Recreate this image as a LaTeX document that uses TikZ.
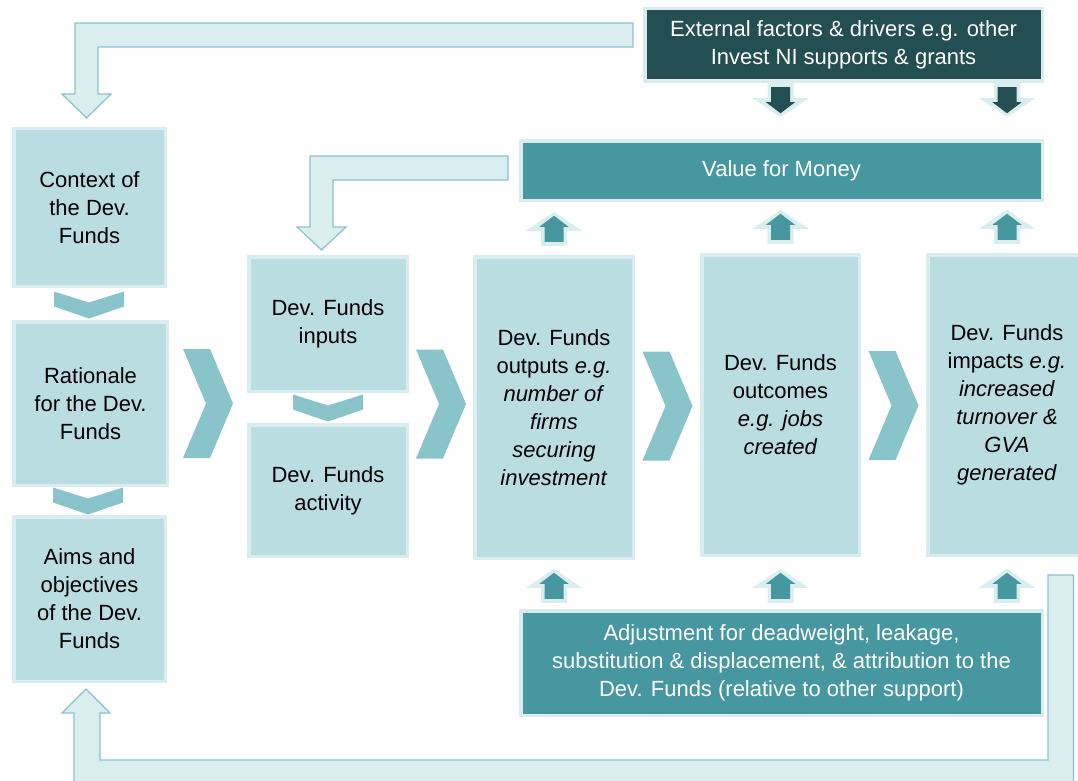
\documentclass[tikz,border=0pt]{standalone}
\usepackage{fontspec}
\setmainfont{Liberation Sans}
\usetikzlibrary{calc}
\definecolor{boxfill}{HTML}{BADDE1}
\definecolor{boxedge}{HTML}{D9EDEF}
\definecolor{chevcol}{HTML}{8AC4CB}
\definecolor{fbfill}{HTML}{DAEDEF}
\definecolor{fbedge}{HTML}{8AC4CB}
\definecolor{vfmteal}{HTML}{4797A0}
\definecolor{darkteal}{HTML}{234E52}
\begin{document}
\begin{tikzpicture}[x=1pt,y=-1pt,
  txt/.style={font=\fontsize{22}{28}\selectfont, align=center, inner sep=0pt, outer sep=0pt},
  lbox/.style={txt, draw=boxedge, line width=3.5pt, fill=boxfill, text=black},
  tbox/.style={txt, draw=boxedge, line width=3.5pt, fill=vfmteal, text=white},
  dbox/.style={txt, draw=boxedge, line width=3.5pt, fill=darkteal, text=white},
  fbarrow/.style={fill=fbfill, draw=fbedge, line width=1.2pt, line join=miter},
  downchev/.pic={\fill[chevcol] (-35,-13.5) -- (0,-2.5) -- (35,-13.5) -- (35,1.5) -- (0,13.5) -- (-35,1.5) -- cycle;},
  rightchev/.pic={\fill[chevcol] (-25,-54.5) -- (2,-54.5) -- (25,0) -- (2,54.5) -- (-25,54.5) -- (-2,0) -- cycle;},
  uparrow/.pic={
    \fill[fbfill] (0,-17) -- (28,2) -- (13,2) -- (13,17) -- (-13,17) -- (-13,2) -- (-28,2) -- cycle;
    \fill[vfmteal] (0,-13) -- (14.5,-2) -- (9.5,-2) -- (9.5,13) -- (-9.5,13) -- (-9.5,-2) -- (-14.5,-2) -- cycle;},
  downarrow/.pic={
    \fill[fbfill] (0,17) -- (28,-2) -- (13,-2) -- (13,-17) -- (-13,-17) -- (-13,-2) -- (-28,-2) -- cycle;
    \fill[darkteal] (0,13) -- (14.5,2) -- (9.5,2) -- (9.5,-13) -- (-9.5,-13) -- (-9.5,2) -- (-14.5,2) -- cycle;}
]
\fill[white] (0,0) rectangle (1078,781);
\useasboundingbox (0,0) rectangle (1078,781);

% feedback block arrows
\draw[fbarrow] (633,23) -- (75,23) -- (75,94) -- (62,94) -- (86.5,118) -- (111,94) -- (98,94) -- (98,47) -- (633,47) -- cycle;
\draw[fbarrow] (508,156) -- (310,156) -- (310,227) -- (297,227) -- (321.5,250) -- (346,227) -- (333,227) -- (333,180) -- (508,180) -- cycle;
\draw[fbarrow] (1073.5,575) -- (1073.5,790) -- (74,790) -- (74,713) -- (62,713) -- (86,689) -- (110,713) -- (100,713) -- (100,760) -- (1048,760) -- (1048,575) -- cycle;

% boxes
\node[lbox, minimum width=151.5pt, minimum height=157.5pt] (context) at (89.5,207.5) {Context of\\the Dev.\\Funds};
\node[lbox, minimum width=153.5pt, minimum height=163.5pt] (rationale) at (90.5,403.5) {Rationale\\for the Dev.\\Funds};
\node[lbox, minimum width=151.5pt, minimum height=164.5pt] (aims) at (89.5,599) {Aims and\\objectives\\of the Dev.\\Funds};
\node[lbox, minimum width=158.5pt, minimum height=134.5pt] (inputs) at (328,324) {Dev. Funds\\inputs};
\node[lbox, minimum width=158.5pt, minimum height=131.5pt] (activity) at (328,490.5) {Dev. Funds\\activity};
\node[lbox, minimum width=158.5pt, minimum height=301.5pt] (outputs) at (554,407.5) {Dev. Funds\\outputs \textit{e.g.}\\\textit{number of}\\\textit{firms}\\\textit{securing}\\\textit{investment}};
\node[lbox, minimum width=157.5pt, minimum height=300.5pt] (outcomes) at (780.5,405) {Dev. Funds\\outcomes\\\textit{e.g. jobs}\\\textit{created}};
\node[lbox, minimum width=158.5pt, minimum height=300.5pt] (impacts) at (1007,405) {Dev. Funds\\impacts \textit{e.g.}\\\textit{increased}\\\textit{turnover \&}\\\textit{GVA}\\\textit{generated}};
\node[tbox, minimum width=521.5pt, minimum height=59.5pt] (vfm) at (781.5,170.5) {Value for Money};
\node[dbox, minimum width=397.5pt, minimum height=72.5pt] (external) at (843.5,45) {External factors \& drivers e.g. other\\Invest NI supports \& grants};
\node[tbox, minimum width=521.5pt, minimum height=104.5pt] (adjust) at (781.5,663) {Adjustment for deadweight, leakage,\\substitution \& displacement, \& attribution to the\\Dev. Funds (relative to other support)};

% small down chevrons
\pic at ($(context.south)!0.5!(rationale.north)+(-1,1)$) {downchev};
\pic at ($(rationale.south)!0.5!(aims.north)+(-2,0)$) {downchev};
\pic at ($(inputs.south)!0.5!(activity.north)$) {downchev};

% big right chevrons
\coordinate (c1) at ($(rationale.east)!0.5!(inputs.west)$);
\coordinate (c2) at ($(inputs.east)!0.5!(outputs.west)$);
\coordinate (c3) at ($(outputs.east)!0.5!(outcomes.west)$);
\coordinate (c4) at ($(outcomes.east)!0.5!(impacts.west)$);
\pic at (c1 |- 0,403.5) {rightchev};
\pic at (c2 |- 0,404) {rightchev};
\pic at (c3 |- 0,406) {rightchev};
\pic at (c4 |- 0,405.5) {rightchev};

% up arrows into Value for Money
\foreach \b in {outputs,outcomes,impacts}{
  \pic at ($(\b.north)+(0,-28)$) {uparrow};
  \pic at ($(\b.south |- adjust.north)+(0,-25)$) {uparrow};
}
% down arrows from external factors
\pic at ($(outcomes.north |- external.south)+(0,19)$) {downarrow};
\pic at ($(impacts.north |- external.south)+(0,19)$) {downarrow};
\end{tikzpicture}
\end{document}
